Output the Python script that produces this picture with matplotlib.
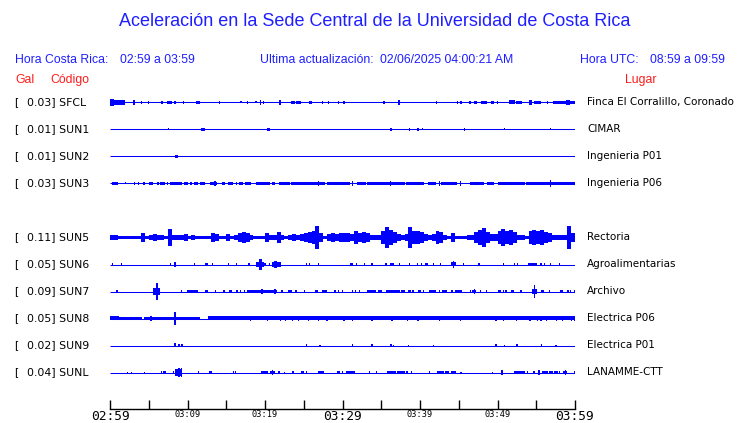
import numpy as np
import matplotlib.pyplot as plt

# estaciones, valores pico (Gal) y lugar
codigos = ['SFCL', 'SUN1', 'SUN2', 'SUN3', 'SUN5', 'SUN6', 'SUN7', 'SUN8', 'SUN9', 'SUNL']
gal = [0.03, 0.01, 0.01, 0.03, 0.11, 0.05, 0.09, 0.05, 0.02, 0.04]
lugares = ['Finca El Corralillo, Coronado', 'CIMAR', 'Ingenieria P01', 'Ingenieria P06',
           'Rectoria', 'Agroalimentarias', 'Archivo', 'Electrica P06', 'Electrica P01',
           'LANAMME-CTT']
filas = [0, 1, 2, 3, 5, 6, 7, 8, 9, 10]   # SUN4 sin datos

# eventos: (inicio min, fin min, amplitud)
ev_sfcl = [(0, 0.5, 3), (0.5, 1.3, 2.5), (1.3, 1.9, 2), (3.0, 3.2, 2), (4.1, 4.1, 1), (5.0, 5.0, 1),
           (6.7, 6.7, 1), (7.3, 8.0, 1.5), (8.4, 8.4, 1.5), (9.5, 9.5, 1), (11.1, 11.6, 1.5),
           (14.1, 14.1, 1), (16.9, 16.9, 0.7), (17.7, 17.7, 1), (18.7, 19.0, 0.7), (19.3, 19.5, 2.5),
           (19.8, 19.8, 1), (21.8, 22.1, 2.5), (23.3, 23.9, 1.5), (24.0, 24.6, 1.5), (25.7, 26.1, 1.3),
           (27.4, 27.4, 1), (28.2, 28.2, 1), (29.5, 29.5, 1), (30.2, 30.2, 1.3), (35.35, 35.35, 1.3),
           (37.3, 37.3, 2), (42.1, 42.1, 1), (44.8, 44.8, 1), (45.3, 45.3, 1), (46.3, 46.6, 1.5),
           (47.0, 47.4, 1.2), (47.9, 48.7, 1), (49.1, 49.6, 1.5), (50.0, 50.0, 1), (51.5, 52.2, 1.7),
           (52.4, 53.2, 1.3), (54.1, 54.5, 2), (54.7, 55.6, 1.3), (56.5, 56.5, 1.3), (57.1, 58.9, 1.5),
           (58.9, 59.3, 2.3), (59.3, 60, 1.5)]
ev_sun1 = [(7.5, 7.5, 0.7), (11.8, 12.3, 1.5), (20.2, 20.6, 1.3), (36.2, 36.3, 1.5), (38.6, 38.6, 1),
           (39.6, 39.9, 1.5), (40.3, 40.3, 0.7), (45.7, 45.7, 1), (50.9, 50.9, 0.7), (56.8, 56.8, 0.7)]
ev_sun2 = [(8.4, 8.8, 1.2)]
ev_sun3 = [(0.3, 1.0, 1.5), (2.0, 2.0, 0.7), (3.2, 3.2, 1.2), (3.7, 3.7, 1.2), (4.4, 4.4, 1),
           (5.0, 5.5, 1.5), (6.2, 6.2, 1), (6.5, 7.1, 1.5), (7.4, 7.4, 1), (7.8, 9.3, 1.5),
           (9.6, 10.1, 1.3), (10.3, 10.6, 1.2), (10.8, 11.4, 1.5), (11.6, 12.2, 1.3), (12.9, 13.8, 1.5),
           (13.5, 13.6, 2.5), (14.4, 14.8, 1.2), (15.2, 15.9, 1.5), (16.2, 16.4, 1), (16.6, 17.1, 1.3),
           (17.4, 18.2, 1.5), (18.9, 20.6, 1.5), (20.9, 21.3, 1.2), (21.8, 23.2, 1.5), (23.4, 27.8, 1.5),
           (26.9, 26.9, 2.3), (28.0, 31.0, 1.5), (31.3, 31.3, 2), (31.9, 33.0, 1.5), (33.2, 34.1, 1.2),
           (34.1, 36.0, 1.5), (36.2, 36.2, 2.5), (36.0, 38.0, 1.5), (38.2, 40.5, 1.5), (41.0, 42.0, 1.3),
           (42.5, 42.5, 2.3), (42.7, 44.8, 1.2), (44.2, 44.6, 1.5), (45.2, 45.2, 2.3), (46.4, 48.3, 1.3),
           (48.7, 49.6, 1.5), (50.0, 53.5, 1.5), (53.7, 60.0, 1.5), (56.8, 56.8, 3)]
# SUN5: envolvente cada 30 s
env_sun5 = [2, 2, 1, 1, 1, 1, 1, 1, 4, 1.5, 2, 3, 2.5, 2, 1.5, 8, 2, 2.5, 2, 3, 1.5, 2, 1.5, 1.5,
            1, 1.5, 4, 3, 1.5, 1.5, 3.5, 1.5, 2, 4, 5, 4, 2, 1.5, 1.5, 1.5, 4.5, 2, 2, 5.5, 2, 1.5,
            2.5, 3, 2, 3, 4, 5, 6, 11, 4, 1.5, 3, 4, 3, 4.5, 4, 4.5, 3.5, 6.5, 4, 5, 4, 2, 2, 2,
            6, 10, 7, 5, 3, 2.5, 3, 10.5, 6, 6, 5, 3, 2.5, 3, 6, 5, 2, 1.5, 4, 1, 1, 1, 2.5, 2.5,
            5, 7, 9, 5, 3, 3, 6, 8, 6, 7, 5, 2, 2, 1.5, 6, 7, 6, 7, 5, 4, 2.5, 2, 2, 2.5, 11, 4]
ev_sun6 = [(0.2, 0.4, 1.3), (1.4, 1.6, 1.3), (7.8, 7.8, 1), (8.2, 8.5, 2), (10.8, 11.0, 1.3),
           (12.3, 12.7, 1.5), (13.1, 13.3, 1.5), (15.3, 15.3, 0.7), (16.2, 16.4, 1.3), (17.8, 18.1, 1.3),
           (18.9, 19.2, 2.5), (19.2, 19.6, 5), (19.6, 19.9, 2), (20.0, 20.0, 1), (20.6, 20.6, 1),
           (20.9, 21.2, 2.5), (21.2, 21.5, 3.3), (21.5, 22.1, 2.3), (25.4, 25.4, 1), (25.7, 25.7, 1),
           (26.9, 26.9, 1), (31.0, 31.3, 1.2), (31.8, 31.8, 1), (32.8, 32.8, 1), (33.8, 33.8, 0.7),
           (35.5, 35.8, 1.3), (36.1, 36.6, 1.5), (37.4, 37.4, 0.7), (38.6, 38.6, 1), (39.7, 39.7, 0.7),
           (40.2, 40.2, 1.3), (40.7, 41.0, 1.5), (41.7, 41.7, 1), (42.6, 42.6, 1), (44.0, 44.6, 1.7),
           (44.3, 44.3, 3.3), (45.6, 45.6, 1.3), (47.6, 47.6, 1.3), (50.8, 50.8, 1.3), (52.2, 52.2, 0.7),
           (52.6, 52.6, 1), (53.9, 55.1, 1.5), (55.5, 55.7, 1.3), (56.1, 56.1, 1), (56.8, 56.8, 0.7),
           (58.0, 58.0, 1.3)]
ev_sun7 = [(0.9, 0.9, 1), (5.6, 5.9, 3), (5.9, 6.2, 8), (6.2, 6.5, 3), (9.2, 9.2, 1), (9.9, 11.4, 1.5),
           (12.2, 12.6, 1.5), (13.6, 13.6, 1), (14.7, 14.7, 1), (15.4, 15.8, 1.5), (16.4, 16.4, 1),
           (16.8, 16.8, 1), (17.4, 17.4, 1), (17.7, 18.3, 1.5), (18.3, 21.6, 1.5), (19.6, 19.6, 2),
           (21.3, 21.3, 2), (22.2, 22.2, 1), (23.0, 23.5, 1.3), (24.0, 24.0, 1), (25.1, 25.1, 0.7),
           (26.4, 26.9, 1.3), (27.3, 28.0, 1.5), (28.9, 29.1, 1.3), (29.5, 29.5, 1), (30.0, 30.0, 1),
           (31.3, 31.3, 1), (31.7, 31.7, 1), (32.2, 32.2, 1), (33.1, 34.3, 1.5), (34.6, 35.1, 1.2),
           (35.6, 37.4, 1.5), (37.6, 38.0, 1.3), (38.4, 38.8, 1.3), (39.1, 39.1, 1), (39.8, 40.1, 1.3),
           (40.5, 40.5, 1), (41.2, 42.0, 1.5), (42.5, 42.5, 1), (42.8, 43.5, 1.3), (44.0, 44.2, 1.3),
           (44.5, 45.4, 1.5), (46.5, 46.5, 1), (46.7, 47.2, 1.5), (47.0, 47.0, 2), (47.8, 47.8, 1),
           (48.6, 48.6, 1), (50.0, 50.4, 1.5), (50.8, 50.8, 1.2), (51.1, 51.1, 1), (51.7, 52.1, 1.3),
           (52.9, 53.2, 1.3), (54.4, 55.1, 2), (54.7, 54.8, 6), (55.6, 56.0, 1.3), (56.7, 56.7, 1.2),
           (58.0, 58.5, 1.5), (59.1, 59.1, 1), (59.4, 59.4, 1), (59.9, 59.9, 1)]
ev_sun8 = [(0, 1.1, 1.7), (1.1, 4.1, 1.6), (4.4, 11.6, 1.6), (12.7, 60, 1.7), (5.3, 5.3, 2.2), (8.4, 8.4, 6),
           (18.1, 18.1, 2.2), (20.3, 20.3, 2), (22.0, 22.0, 2.3), (22.6, 22.6, 2.3), (23.5, 23.5, 2.2),
           (24.3, 24.3, 2.3), (25.6, 25.6, 2.2), (26.9, 26.9, 2.3), (28.0, 28.0, 2.2), (30.2, 30.2, 2.5),
           (31.3, 31.3, 2.5), (33.8, 33.8, 2.2), (36.2, 36.5, 2.5), (38.4, 38.4, 2.5), (39.75, 39.75, 2.2),
           (42.5, 42.5, 2.5), (45.2, 45.2, 2.3), (49.8, 49.8, 2.2), (50.8, 50.8, 2.3), (52.5, 52.5, 2.3),
           (54.2, 54.2, 2.2), (55.2, 55.2, 2.5), (55.6, 55.6, 2.5), (56.3, 56.3, 2.3), (57.6, 57.6, 2.2),
           (58.4, 58.4, 2.3), (59.5, 59.5, 2.5), (59.9, 59.9, 2.5)]
ev_sun9 = [(8.4, 8.4, 1.7), (8.9, 8.9, 1), (9.3, 9.3, 1), (25.4, 25.4, 1.3), (27.1, 27.1, 0.7),
           (31.25, 31.25, 1.3), (33.8, 33.8, 1), (36.1, 36.4, 1.5), (36.6, 36.6, 0.7), (38.5, 38.5, 0.7),
           (41.7, 41.7, 0.7), (49.8, 49.8, 1.3), (50.9, 50.9, 0.7), (52.4, 52.6, 1.3), (55.6, 55.8, 1.5),
           (57.55, 57.55, 0.7)]
ev_sunl = [(2.3, 2.3, 0.7), (2.8, 2.8, 0.7), (4.5, 4.5, 0.7), (6.6, 6.6, 1), (6.9, 7.2, 1.3), (8.2, 8.2, 1),
           (8.4, 8.8, 3), (8.8, 9.0, 4.5), (9.0, 9.2, 3), (9.2, 9.3, 4.5), (11.4, 11.4, 1), (12.9, 12.9, 0.8),
           (13.1, 13.1, 0.8), (15.9, 15.9, 1.2), (16.2, 16.2, 1.2), (19.5, 20.4, 1.5), (20.7, 21.3, 1.5),
           (21.0, 21.0, 2), (21.8, 21.8, 1), (22.5, 22.5, 0.7), (23.5, 23.8, 1.3), (24.6, 25.0, 1.5),
           (25.4, 25.4, 1), (26.9, 27.6, 1.5), (29.3, 29.7, 1.3), (30.0, 30.0, 1), (30.5, 31.6, 1.5),
           (33.4, 33.6, 1), (34.4, 34.4, 1), (35.8, 36.9, 1.5), (37.0, 38.0, 1.5), (38.2, 38.4, 1.3),
           (38.9, 38.9, 1), (41.2, 41.2, 1), (42.25, 43.1, 1.3), (43.2, 43.8, 1.3), (44.0, 44.6, 1.5),
           (45.3, 45.3, 0.7), (49.4, 49.4, 0.7), (50.4, 50.7, 2), (52.1, 53.5, 1.5), (53.9, 53.9, 1),
           (54.7, 54.7, 1), (55.2, 55.5, 1.7), (55.8, 56.5, 1.3), (56.7, 57.1, 1.3), (57.3, 57.8, 1.3),
           (58.0, 58.0, 1), (58.4, 59.0, 1.5), (58.8, 58.8, 2), (59.9, 59.9, 1)]

eventos = [ev_sfcl, ev_sun1, ev_sun2, ev_sun3, None, ev_sun6, ev_sun7, ev_sun8, ev_sun9, ev_sunl]

tick_min = np.arange(0, 61, 5)
tick_lab = {0: '02:59', 10: '03:09', 20: '03:19', 30: '03:29', 40: '03:39', 50: '03:49', 60: '03:59'}

AZUL = '#0000ff'
TXT_AZUL = '#1e1eff'
ROJO = '#ff1a1a'
W, H = 740, 423
k = 1 / 27.0   # amplitud -> separacion entre filas

fig = plt.figure(figsize=(W / 100, H / 100), dpi=100)

def fx(x):
    return x / W

def fy(y):
    return 1 - y / H

# ejes de las trazas: x 110..575 px, y 90..409 px
top_px, bot_px = 90, 409
ax = fig.add_axes([fx(110), fy(bot_px), (575 - 110) / W, (bot_px - top_px) / H])
ax.set_xlim(0, 60)
ax.set_ylim(-(bot_px - 102.5) / 27, (102.5 - top_px) / 27)

for i, fila in enumerate(filas):
    y0 = -fila
    ax.plot([0, 60], [y0, y0], color=AZUL, lw=0.75, solid_capstyle='butt')
    if codigos[i] == 'SUN5':
        env = (np.array(env_sun5) + 0.3) * k
        tt = np.arange(len(env) + 1) * 0.5
        ax.stairs(y0 + env, tt, baseline=y0 - env, fill=True, color=AZUL, lw=0)
    else:
        for s, e, a in eventos[i]:
            if e - s < 0.16:
                c = (s + e) / 2
                s, e = c - 0.08, c + 0.08
            a = (a + 0.3) * k
            ax.fill_between([s, e], [y0 - a, y0 - a], [y0 + a, y0 + a], color=AZUL, lw=0)

for sp_ in ['left', 'right', 'top']:
    ax.spines[sp_].set_visible(False)
ax.spines['bottom'].set_linewidth(1.0)
ax.set_yticks([])
ax.set_xticks(tick_min)
ax.set_xticklabels([tick_lab.get(int(m), '') for m in tick_min], family='DejaVu Sans Mono')
ax.tick_params(axis='x', direction='in', length=6.5, width=1.0, pad=1)
for m, lab in zip(tick_min, ax.get_xticklabels()):
    lab.set_fontsize(9.3 if m in (0, 30, 60) else 6.2)

# textos
fig.text(fx(375), fy(22), 'Aceleración en la Sede Central de la Universidad de Costa Rica',
         ha='center', va='center', color=TXT_AZUL, family='Liberation Sans', fontsize=13)
hdr = dict(va='center', color=TXT_AZUL, family='Liberation Sans', fontsize=8.8)
fig.text(fx(15), fy(60), 'Hora Costa Rica:', **hdr)
fig.text(fx(120), fy(60), '02:59 a 03:59', **hdr)
fig.text(fx(260), fy(60), 'Ultima actualización:', **hdr)
fig.text(fx(380), fy(60), '02/06/2025 04:00:21 AM', **hdr)
fig.text(fx(580), fy(60), 'Hora UTC:', **hdr)
fig.text(fx(650), fy(60), '08:59 a 09:59', **hdr)
red = dict(va='center', color=ROJO, family='Liberation Sans', fontsize=8.8)
fig.text(fx(15), fy(80), 'Gal', **red)
fig.text(fx(50), fy(80), 'Código', **red)
fig.text(fx(625), fy(80), 'Lugar', **red)

for i, fila in enumerate(filas):
    ypx = 102 + 27 * fila
    fig.text(fx(14), fy(ypx), '[', va='center', family='DejaVu Sans', fontsize=7.8)
    fig.text(fx(27), fy(ypx), f'{gal[i]:.2f}] {codigos[i]}', va='center', family='DejaVu Sans',
             fontsize=7.8)
    fig.text(fx(587), fy(ypx), lugares[i], va='center', family='DejaVu Sans', fontsize=7.45)

fig.savefig('out.png', dpi=100)
